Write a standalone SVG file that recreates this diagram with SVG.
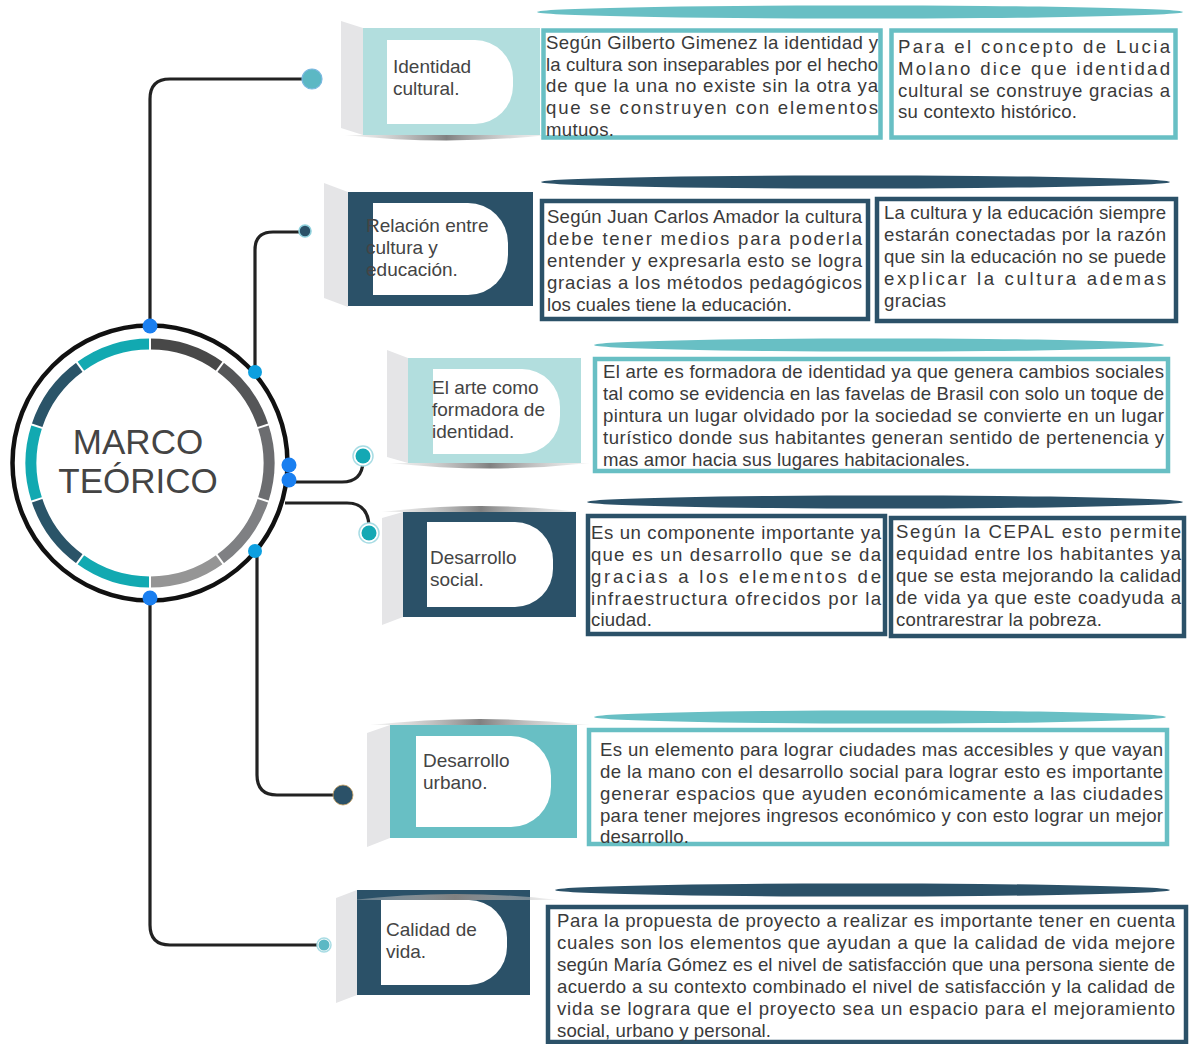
<svg xmlns="http://www.w3.org/2000/svg" width="1190" height="1044" viewBox="0 0 1190 1044">
<defs>
<linearGradient id="sh" x1="0" y1="0" x2="1" y2="0">
<stop offset="0" stop-color="#d8d8d8" stop-opacity="0.3"/>
<stop offset="0.5" stop-color="#808080"/>
<stop offset="1" stop-color="#d8d8d8" stop-opacity="0.3"/>
</linearGradient>
</defs>
<style>
.panel{fill:#e5e5e7}
.lt{fill:#b2dede}
.md{fill:#68bfc4}
.dk{fill:#2b5168}
.d{fill:#ffffff}
.shadow{fill:url(#sh)}
.nt{font-family:"Liberation Sans",Arial,sans-serif;font-size:19px;fill:#444444}
.tx{font-family:"Liberation Sans",Arial,sans-serif;font-size:18.6px;fill:#3a3a3a}
.bt{fill:#ffffff;stroke:#68bfc4;stroke-width:4.5}
.bd{fill:#ffffff;stroke:#2b5168;stroke-width:4.5}
.pt{fill:#68bfc4}
.pd{fill:#2b5168}
.ln{fill:none;stroke:#222222;stroke-width:3.2}
.ring{fill:#1a7ff0}
.ring2{fill:#0d9fe0}
.seg{fill:none;stroke-width:11}
.sep{stroke:#ffffff;stroke-width:2}
</style>

<g id="center">
<circle cx="150" cy="463" r="137.5" fill="#ffffff" stroke="#111111" stroke-width="4.5"/>
<path class="seg" stroke="#484848" d="M150,344 A119,119 0 0 1 219.95,366.73"/>
<path class="seg" stroke="#555658" d="M219.95,366.73 A119,119 0 0 1 263.18,426.23"/>
<path class="seg" stroke="#6c6d70" d="M263.18,426.23 A119,119 0 0 1 263.18,499.77"/>
<path class="seg" stroke="#7f8083" d="M263.18,499.77 A119,119 0 0 1 219.95,559.27"/>
<path class="seg" stroke="#959595" d="M219.95,559.27 A119,119 0 0 1 150,582"/>
<path class="seg" stroke="#12a9b1" d="M150,582 A119,119 0 0 1 80.05,559.27"/>
<path class="seg" stroke="#2a5468" d="M80.05,559.27 A119,119 0 0 1 36.82,499.77"/>
<path class="seg" stroke="#12a9b1" d="M36.82,499.77 A119,119 0 0 1 36.82,426.23"/>
<path class="seg" stroke="#2a5468" d="M36.82,426.23 A119,119 0 0 1 80.05,366.73"/>
<path class="seg" stroke="#12a9b1" d="M80.05,366.73 A119,119 0 0 1 150,344"/>
<line class="sep" x1="150" y1="351" x2="150" y2="337"/>
<line class="sep" x1="215.83" y1="372.39" x2="224.06" y2="361.07"/>
<line class="sep" x1="256.52" y1="428.39" x2="269.84" y2="424.07"/>
<line class="sep" x1="256.52" y1="497.61" x2="269.84" y2="501.93"/>
<line class="sep" x1="215.83" y1="553.61" x2="224.06" y2="564.93"/>
<line class="sep" x1="150" y1="575" x2="150" y2="589"/>
<line class="sep" x1="84.17" y1="553.61" x2="75.94" y2="564.93"/>
<line class="sep" x1="43.48" y1="497.61" x2="30.16" y2="501.93"/>
<line class="sep" x1="43.48" y1="428.39" x2="30.16" y2="424.07"/>
<line class="sep" x1="84.17" y1="372.39" x2="75.94" y2="361.07"/>
<text x="138" y="454" text-anchor="middle" font-family="Liberation Sans, Arial, sans-serif" font-size="35" fill="#444444">MARCO</text>
<text x="138" y="493" text-anchor="middle" font-family="Liberation Sans, Arial, sans-serif" font-size="35" fill="#444444">TEÓRICO</text>
</g>

<g id="connectors">
<path class="ln" d="M150,326 V99 Q150,79 170,79 H303"/>
<path class="ln" d="M255,372 V250 Q255,232 273,232 H300"/>
<path class="ln" d="M289,482 H342 Q362,482 363,462"/>
<path class="ln" d="M285,503 H347 Q368,503 369,526"/>
<path class="ln" d="M257,551 V775 Q257,795 277,795 H334"/>
<path class="ln" d="M150,598 V925 Q150,945 170,945 H318"/>
<circle class="ring" cx="150" cy="326" r="7.5"/>
<circle class="ring2" cx="255" cy="372" r="7"/>
<circle class="ring" cx="289" cy="465" r="7.5"/>
<circle class="ring" cx="289" cy="480" r="7.5"/>
<circle class="ring2" cx="255" cy="551" r="7"/>
<circle class="ring" cx="150" cy="598" r="7.5"/>
<circle cx="312" cy="79" r="10" fill="#5cb8c4" stroke="#7ab8e0" stroke-width="1.2"/>
<circle cx="305" cy="231" r="6" fill="#2b5168" stroke="#8fd0dc" stroke-width="1.6"/>
<circle cx="363" cy="456" r="10" fill="#ffffff" stroke="#a8dce4" stroke-width="1.5"/>
<circle cx="363" cy="456" r="7.5" fill="#14a8b4"/>
<circle cx="369" cy="533" r="10" fill="#ffffff" stroke="#a8dce4" stroke-width="1.5"/>
<circle cx="369" cy="533" r="7.5" fill="#14a8b4"/>
<circle cx="343" cy="795" r="10" fill="#2b5168" stroke="#c8a060" stroke-width="0.8"/>
<circle cx="324" cy="945" r="7" fill="#ffffff" stroke="#a8dce4" stroke-width="1.5"/>
<circle cx="324" cy="945" r="5.5" fill="#5cb8c4"/>
</g>

<g id="node-identidad">
<polygon class="panel" points="341,21 363,28 363,135 341,128"/>
<rect class="lt" x="363" y="28" width="177" height="107"/>
<path class="d" d="M387,40 H475 A38,38 0 0 1 513,78 V86 A38,38 0 0 1 475,124 H387 Z"/>
<path class="shadow" d="M345,135 Q446,146 548,135 Z"/>
<text class="nt" x="393" y="73">Identidad</text>
<text class="nt" x="393" y="95">cultural.</text>
</g>

<g id="node-relacion">
<polygon class="panel" points="324,183 348,192 348,307 324,298"/>
<rect class="dk" x="348" y="192" width="185" height="114"/>
<path class="d" d="M373,203 H468 A40,40 0 0 1 508,243 V255 A40,40 0 0 1 468,295 H373 Z"/>
<text class="nt" x="366" y="232">Relación entre</text>
<text class="nt" x="366" y="254">cultura y</text>
<text class="nt" x="366" y="276">educación.</text>
</g>

<g id="node-arte">
<polygon class="panel" points="387,350 408,358 408,463 387,457"/>
<rect class="lt" x="408" y="358" width="173" height="105"/>
<path class="d" d="M433,369 H522 A38,38 0 0 1 560,407 V416 A38,38 0 0 1 522,454 H433 Z"/>
<path class="shadow" d="M390,463 Q490,474 590,463 Z"/>
<text class="nt" x="432" y="394">El arte como</text>
<text class="nt" x="432" y="416">formadora de</text>
<text class="nt" x="432" y="438">identidad.</text>
</g>

<g id="node-social">
<path class="shadow" d="M382,512 Q480,500 580,512 Z"/>
<polygon class="panel" points="382,518 403,512 403,617 382,625"/>
<rect class="dk" x="403" y="512" width="173" height="105"/>
<path class="d" d="M427,522 H515 A38,38 0 0 1 553,560 V569 A38,38 0 0 1 515,607 H427 Z"/>
<text class="nt" x="430" y="564">Desarrollo</text>
<text class="nt" x="430" y="586">social.</text>
</g>

<g id="node-urbano">
<path class="shadow" d="M370,725 Q480,713 590,725 Z"/>
<polygon class="panel" points="367,733 390,725 390,838 367,847"/>
<rect class="md" x="390" y="725" width="187" height="113"/>
<path class="d" d="M416,736 H511 A40,40 0 0 1 551,776 V787 A40,40 0 0 1 511,827 H416 Z"/>
<text class="nt" x="423" y="767">Desarrollo</text>
<text class="nt" x="423" y="789">urbano.</text>
</g>

<g id="node-calidad">
<polygon class="panel" points="336,898 357,890 357,995 336,1003"/>
<rect class="dk" x="357" y="890" width="173" height="105"/>
<path class="d" d="M381,900 H469 A38,38 0 0 1 507,938 V947 A38,38 0 0 1 469,985 H381 Z"/>
<path class="shadow" d="M352,900 Q455,888 558,900 Z"/>
<text class="nt" x="386" y="936">Calidad de</text>
<text class="nt" x="386" y="958">vida.</text>
</g>

<g id="text-identidad">
<ellipse class="pt" cx="860" cy="12" rx="323" ry="6.5"/>
<rect class="bt" x="543.5" y="30.5" width="337" height="107"/>
<rect class="bt" x="891.5" y="30.5" width="284" height="107"/>
<text class="tx" x="546" y="49" textLength="332" lengthAdjust="spacing">Según Gilberto Gimenez la identidad y</text>
<text class="tx" x="546" y="71" textLength="332" lengthAdjust="spacing">la cultura son inseparables por el hecho</text>
<text class="tx" x="546" y="92" textLength="332" lengthAdjust="spacing">de que la una no existe sin la otra ya</text>
<text class="tx" x="546" y="114" textLength="332" lengthAdjust="spacing">que se construyen con elementos</text>
<text class="tx" x="546" y="136" textLength="68" lengthAdjust="spacing">mutuos.</text>
<text class="tx" x="898" y="53" textLength="272" lengthAdjust="spacing">Para el concepto de Lucia</text>
<text class="tx" x="898" y="75" textLength="272" lengthAdjust="spacing">Molano dice que identidad</text>
<text class="tx" x="898" y="97" textLength="272" lengthAdjust="spacing">cultural se construye gracias a</text>
<text class="tx" x="898" y="118" textLength="179" lengthAdjust="spacing">su contexto histórico.</text>
</g>

<g id="text-relacion">
<ellipse class="pd" cx="855.5" cy="182" rx="314.5" ry="6.5"/>
<rect class="bd" x="542" y="201" width="326" height="118"/>
<rect class="bd" x="877" y="199" width="299" height="122"/>
<text class="tx" x="547" y="223" textLength="315" lengthAdjust="spacing">Según Juan Carlos Amador la cultura</text>
<text class="tx" x="547" y="245" textLength="315" lengthAdjust="spacing">debe tener medios para poderla</text>
<text class="tx" x="547" y="267" textLength="315" lengthAdjust="spacing">entender y expresarla esto se logra</text>
<text class="tx" x="547" y="289" textLength="315" lengthAdjust="spacing">gracias a los métodos pedagógicos</text>
<text class="tx" x="547" y="311" textLength="245" lengthAdjust="spacing">los cuales tiene la educación.</text>
<text class="tx" x="884" y="219" textLength="282" lengthAdjust="spacing">La cultura y la educación siempre</text>
<text class="tx" x="884" y="241" textLength="282" lengthAdjust="spacing">estarán conectadas por la razón</text>
<text class="tx" x="884" y="263" textLength="282" lengthAdjust="spacing">que sin la educación no se puede</text>
<text class="tx" x="884" y="285" textLength="282" lengthAdjust="spacing">explicar la cultura ademas</text>
<text class="tx" x="884" y="307" textLength="62" lengthAdjust="spacing">gracias</text>
</g>

<g id="text-arte">
<ellipse class="pt" cx="879" cy="345" rx="285" ry="6.5"/>
<rect class="bt" x="595" y="359" width="573" height="112"/>
<text class="tx" x="603" y="378" textLength="561" lengthAdjust="spacing">El arte es formadora de identidad ya que genera cambios sociales</text>
<text class="tx" x="603" y="400" textLength="561" lengthAdjust="spacing">tal como se evidencia en las favelas de Brasil con solo un toque de</text>
<text class="tx" x="603" y="422" textLength="561" lengthAdjust="spacing">pintura un lugar olvidado por la sociedad se convierte en un lugar</text>
<text class="tx" x="603" y="444" textLength="561" lengthAdjust="spacing">turístico donde sus habitantes generan sentido de pertenencia y</text>
<text class="tx" x="603" y="466" textLength="367" lengthAdjust="spacing">mas amor hacia sus lugares habitacionales.</text>
</g>

<g id="text-social">
<ellipse class="pd" cx="885" cy="502" rx="298" ry="6.5"/>
<rect class="bd" x="588" y="516" width="297" height="118"/>
<rect class="bd" x="891" y="518" width="293" height="118"/>
<text class="tx" x="591" y="539" textLength="290" lengthAdjust="spacing">Es un componente importante ya</text>
<text class="tx" x="591" y="561" textLength="290" lengthAdjust="spacing">que es un desarrollo que se da</text>
<text class="tx" x="591" y="583" textLength="290" lengthAdjust="spacing">gracias a los elementos de</text>
<text class="tx" x="591" y="605" textLength="290" lengthAdjust="spacing">infraestructura ofrecidos por la</text>
<text class="tx" x="591" y="626" textLength="61" lengthAdjust="spacing">ciudad.</text>
<text class="tx" x="896" y="538" textLength="285" lengthAdjust="spacing">Según la CEPAL esto permite</text>
<text class="tx" x="896" y="560" textLength="285" lengthAdjust="spacing">equidad entre los habitantes ya</text>
<text class="tx" x="896" y="582" textLength="285" lengthAdjust="spacing">que se esta mejorando la calidad</text>
<text class="tx" x="896" y="604" textLength="285" lengthAdjust="spacing">de vida ya que este coadyuda a</text>
<text class="tx" x="896" y="626" textLength="206" lengthAdjust="spacing">contrarestrar la pobreza.</text>
</g>

<g id="text-urbano">
<ellipse class="pt" cx="880" cy="717" rx="286" ry="6.5"/>
<rect class="bt" x="589" y="730" width="578" height="114"/>
<text class="tx" x="600" y="756" textLength="563" lengthAdjust="spacing">Es un elemento para lograr ciudades mas accesibles y que vayan</text>
<text class="tx" x="600" y="778" textLength="563" lengthAdjust="spacing">de la mano con el desarrollo social para lograr esto es importante</text>
<text class="tx" x="600" y="800" textLength="563" lengthAdjust="spacing">generar espacios que ayuden económicamente a las ciudades</text>
<text class="tx" x="600" y="822" textLength="563" lengthAdjust="spacing">para tener mejores ingresos económico y con esto lograr un mejor</text>
<text class="tx" x="600" y="843" textLength="89" lengthAdjust="spacing">desarrollo.</text>
</g>

<g id="text-calidad">
<ellipse class="pd" cx="862.5" cy="890" rx="307.5" ry="6.5"/>
<rect class="bd" x="548" y="907" width="638" height="135"/>
<text class="tx" x="557" y="927" textLength="618" lengthAdjust="spacing">Para la propuesta de proyecto a realizar es importante tener en cuenta</text>
<text class="tx" x="557" y="949" textLength="618" lengthAdjust="spacing">cuales son los elementos que ayudan a que la calidad de vida mejore</text>
<text class="tx" x="557" y="971" textLength="618" lengthAdjust="spacing">según María Gómez es el nivel de satisfacción que una persona siente de</text>
<text class="tx" x="557" y="993" textLength="618" lengthAdjust="spacing">acuerdo a su contexto combinado el nivel de satisfacción y la calidad de</text>
<text class="tx" x="557" y="1015" textLength="618" lengthAdjust="spacing">vida se lograra que el proyecto sea un espacio para el mejoramiento</text>
<text class="tx" x="557" y="1037" textLength="214" lengthAdjust="spacing">social, urbano y personal.</text>
</g>
</svg>
